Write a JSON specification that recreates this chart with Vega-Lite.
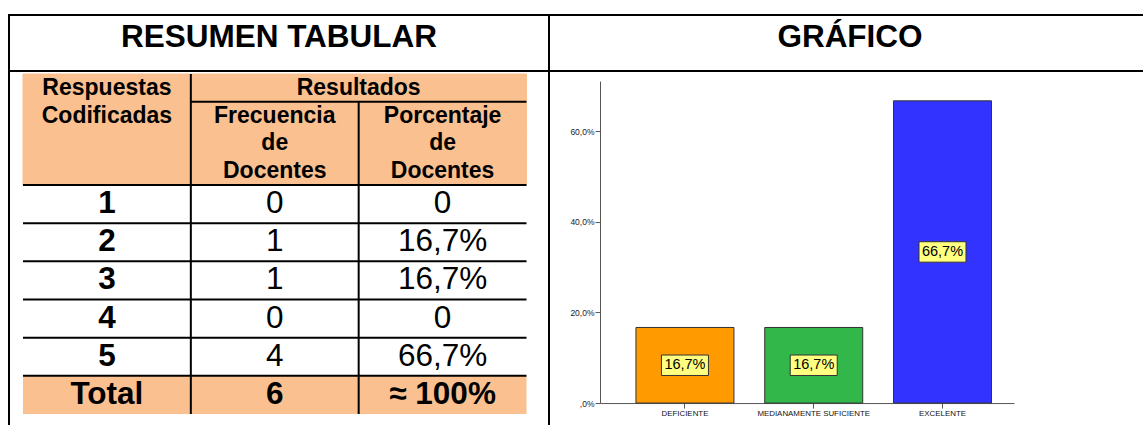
{
  "$schema": "https://vega.github.io/schema/vega-lite/v6.json",
  "padding": {"left": 8, "top": 14, "right": 0, "bottom": 0},
  "background": "white",
  "spacing": -2,
  "config": {
    "font": "Liberation Sans",
    "view": {"stroke": null},
    "locale": {"number": {"decimal": ",", "thousands": ".", "grouping": [3], "currency": ["", " €"]}}
  },
  "datasets": {
    "titulos": [
      {"panel": "tabla", "titulo": "RESUMEN TABULAR"},
      {"panel": "grafico", "titulo": "GRÁFICO"}
    ],
    "encabezado": [
      {"linea": "l1", "codigo": "Respuestas", "frecuencia": "", "porcentaje": ""},
      {"linea": "l2", "codigo": "Codificadas", "frecuencia": "Frecuencia", "porcentaje": "Porcentaje"},
      {"linea": "l3", "codigo": "", "frecuencia": "de", "porcentaje": "de"},
      {"linea": "l4", "codigo": "", "frecuencia": "Docentes", "porcentaje": "Docentes"}
    ],
    "cuerpo": [
      {"codigo": "1", "frecuencia": "0", "porcentaje": "0"},
      {"codigo": "2", "frecuencia": "1", "porcentaje": "16,7%"},
      {"codigo": "3", "frecuencia": "1", "porcentaje": "16,7%"},
      {"codigo": "4", "frecuencia": "0", "porcentaje": "0"},
      {"codigo": "5", "frecuencia": "4", "porcentaje": "66,7%"},
      {"codigo": "Total", "frecuencia": "6", "porcentaje": "≈ 100%"}
    ],
    "grafico": [
      {"categoria": "DEFICIENTE", "porcentaje": 0.1667},
      {"categoria": "MEDIANAMENTE SUFICIENTE", "porcentaje": 0.1667},
      {"categoria": "EXCELENTE", "porcentaje": 0.6667}
    ]
  },
  "vconcat": [
    {
      "hconcat": [
        {
          "width": 540, "height": 56,
          "view": {"stroke": "black", "strokeWidth": 2},
          "data": {"name": "titulos"},
          "transform": [{"filter": "datum.panel == 'tabla'"}],
          "mark": {"type": "text", "fontSize": 31.5, "fontWeight": "bold", "baseline": "alphabetic", "dy": 4, "color": "black"},
          "encoding": {"text": {"field": "titulo"}}
        },
        {
          "width": 594, "height": 56,
          "view": {"stroke": "black", "strokeWidth": 2, "strokeDash": [594, 56, 650, 0]},
          "data": {"name": "titulos"},
          "transform": [{"filter": "datum.panel == 'grafico'"}],
          "mark": {"type": "text", "fontSize": 31.5, "fontWeight": "bold", "baseline": "alphabetic", "dy": 4, "dx": 4, "color": "black"},
          "encoding": {"text": {"field": "titulo"}}
        }
      ],
      "spacing": 0,
      "bounds": "flush"
    },
    {
      "hconcat": [
        {
          "vconcat": [
            {
              "width": 540, "height": 113,
              "view": {"stroke": "black", "strokeWidth": 2, "strokeDash": [0, 540, 113, 540, 113, 0]},
              "data": {"name": "encabezado"},
              "encoding": {
                "x": {"field": "columna", "type": "nominal", "axis": null,
                      "scale": {"domain": ["codigo", "frecuencia", "porcentaje"], "paddingInner": 0, "paddingOuter": 0.1087, "align": 0.3836}},
                "y": {"field": "linea", "type": "nominal", "axis": null,
                      "scale": {"domain": ["l1", "l2", "l3", "l4"], "paddingInner": 0, "paddingOuter": 0.036, "align": 1}}
              },
              "layer": [
                {
                  "transform": [{"fold": ["codigo", "frecuencia", "porcentaje"], "as": ["columna", "texto"]}],
                  "mark": {"type": "rect", "fill": "#FAC090", "stroke": "#FAC090", "strokeWidth": 1}
                },
                {
                  "data": {"values": [{}]},
                  "mark": {"type": "rule", "color": "black", "strokeWidth": 2},
                  "encoding": {
                    "x": {"datum": "frecuencia", "bandPosition": 0},
                    "y": {"datum": "l1", "bandPosition": 0},
                    "y2": {"datum": "l4", "bandPosition": 1}
                  }
                },
                {
                  "data": {"values": [{}]},
                  "mark": {"type": "rule", "color": "black", "strokeWidth": 2},
                  "encoding": {
                    "x": {"datum": "porcentaje", "bandPosition": 0},
                    "y": {"datum": "l2", "bandPosition": 0},
                    "y2": {"datum": "l4", "bandPosition": 1}
                  }
                },
                {
                  "data": {"values": [{}]},
                  "mark": {"type": "rule", "color": "black", "strokeWidth": 2},
                  "encoding": {
                    "y": {"datum": "l2", "bandPosition": 0},
                    "x": {"datum": "frecuencia", "bandPosition": 0},
                    "x2": {"datum": "porcentaje", "bandPosition": 1}
                  }
                },
                {
                  "transform": [
                    {"fold": ["codigo", "frecuencia", "porcentaje"], "as": ["columna", "texto"]},
                    {"filter": "datum.texto != ''"}
                  ],
                  "mark": {"type": "text", "fontSize": 23, "fontWeight": "bold", "color": "black"},
                  "encoding": {"text": {"field": "texto"}}
                },
                {
                  "data": {"values": [{"texto": "Resultados"}]},
                  "mark": {"type": "text", "fontSize": 23, "fontWeight": "bold", "color": "black"},
                  "encoding": {
                    "x": {"datum": "porcentaje", "bandPosition": 0},
                    "y": {"datum": "l1"},
                    "text": {"field": "texto"}
                  }
                }
              ]
            },
            {
              "width": 540, "height": 240,
              "view": {"stroke": "black", "strokeWidth": 2, "strokeDash": [0, 540, 240, 540, 240, 0]},
              "data": {"name": "cuerpo"},
              "encoding": {
                "x": {"field": "columna", "type": "nominal", "axis": null,
                      "scale": {"domain": ["codigo", "frecuencia", "porcentaje"], "paddingInner": 0, "paddingOuter": 0.1087, "align": 0.3836}},
                "y": {"field": "codigo", "type": "nominal", "axis": null,
                      "scale": {"domain": ["1", "2", "3", "4", "5", "Total"], "paddingInner": 0, "paddingOuter": 0.144, "align": 0}}
              },
              "layer": [
                {
                  "transform": [
                    {"fold": ["codigo", "frecuencia", "porcentaje"], "as": ["columna", "texto"]},
                    {"filter": "datum.codigo == 'Total'"}
                  ],
                  "mark": {"type": "rect", "fill": "#FAC090"}
                },
                {
                  "mark": {"type": "rule", "color": "black", "strokeWidth": 2},
                  "encoding": {
                    "y": {"field": "codigo", "type": "nominal", "bandPosition": 0},
                    "x": {"datum": "codigo", "bandPosition": 0},
                    "x2": {"datum": "porcentaje", "bandPosition": 1}
                  }
                },
                {
                  "data": {"values": [{}]},
                  "mark": {"type": "rule", "color": "black", "strokeWidth": 2},
                  "encoding": {
                    "x": {"datum": "frecuencia", "bandPosition": 0},
                    "y": {"datum": "1", "bandPosition": 0},
                    "y2": {"datum": "Total", "bandPosition": 1}
                  }
                },
                {
                  "data": {"values": [{}]},
                  "mark": {"type": "rule", "color": "black", "strokeWidth": 2},
                  "encoding": {
                    "x": {"datum": "porcentaje", "bandPosition": 0},
                    "y": {"datum": "1", "bandPosition": 0},
                    "y2": {"datum": "Total", "bandPosition": 1}
                  }
                },
                {
                  "transform": [
                    {"fold": ["codigo", "frecuencia", "porcentaje"], "as": ["columna", "texto"]},
                    {"filter": "datum.columna == 'codigo' || datum.codigo == 'Total'"}
                  ],
                  "mark": {"type": "text", "fontSize": 31.5, "fontWeight": "bold", "color": "black"},
                  "encoding": {"text": {"field": "texto"}}
                },
                {
                  "transform": [
                    {"fold": ["codigo", "frecuencia", "porcentaje"], "as": ["columna", "texto"]},
                    {"filter": "datum.columna != 'codigo' && datum.codigo != 'Total'"}
                  ],
                  "mark": {"type": "text", "fontSize": 31.5, "color": "black"},
                  "encoding": {"text": {"field": "texto"}}
                }
              ]
            }
          ],
          "spacing": 0,
          "bounds": "flush"
        },
        {
          "width": 414, "height": 322,
          "view": {"stroke": null},
          "data": {"name": "grafico"},
          "encoding": {
            "x": {"field": "categoria", "type": "nominal", "sort": null,
                  "scale": {"domain": ["DEFICIENTE", "MEDIANAMENTE SUFICIENTE", "EXCELENTE"], "paddingInner": 0.239, "paddingOuter": 0.227, "align": 0.615},
                  "axis": {"title": null, "labelAngle": 0, "tickSize": 5, "labelPadding": 1, "labelFontSize": 7.9, "labelColor": "#111111", "domainColor": "#555555", "tickColor": "#555555", "grid": false}}
          },
          "layer": [
            {
              "mark": {"type": "bar", "stroke": "#333333", "strokeWidth": 1},
              "encoding": {
                "y": {"field": "porcentaje", "type": "quantitative",
                      "scale": {"domain": [0, 0.7103], "nice": false, "zero": true},
                      "axis": {"title": null, "values": [0, 0.2, 0.4, 0.6], "format": ".1%", "labelExpr": "datum.value == 0 ? ',0%' : datum.label", "grid": false, "tickSize": 5, "labelPadding": 1, "labelFontSize": 8.5, "labelColor": "#222222", "domainColor": "#555555", "tickColor": "#555555"}},
                "color": {"field": "categoria", "type": "nominal",
                          "scale": {"domain": ["DEFICIENTE", "MEDIANAMENTE SUFICIENTE", "EXCELENTE"], "range": ["#FF9A00", "#32B84A", "#3333FF"]},
                          "legend": null}
              }
            },
            {
              "encoding": {
                "y": {"field": "porcentaje", "type": "quantitative",
                      "scale": {"domain": [0, 1.4206], "nice": false, "zero": true}, "axis": null}
              },
              "layer": [
                {
                  "mark": {"type": "point", "shape": "M-1,-0.435H1V0.435H-1Z", "size": 2209, "filled": true, "fill": "#FFFF80", "stroke": "#333333", "strokeWidth": 1, "opacity": 1}
                },
                {
                  "mark": {"type": "text", "fontSize": 14.5, "color": "black"},
                  "encoding": {"text": {"field": "porcentaje", "type": "quantitative", "format": ".1%"}}
                }
              ]
            }
          ],
          "resolve": {"scale": {"y": "independent"}}
        }
      ],
      "spacing": 19,
      "center": true
    }
  ]
}
